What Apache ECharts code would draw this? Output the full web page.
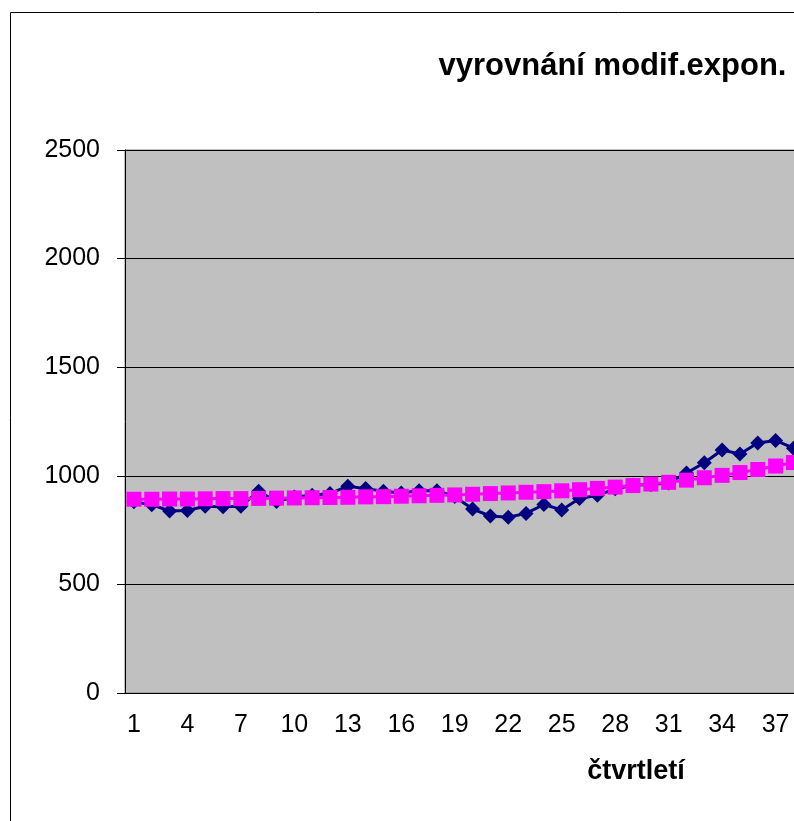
<!DOCTYPE html>
<html>
<head>
<meta charset="utf-8">
<script src="https://cdn.jsdelivr.net/npm/echarts@6/dist/echarts.min.js"></script>
<style>
  html, body { margin: 0; padding: 0; overflow: hidden; background: #fff; }
  #main { width: 1225px; height: 821px; }
</style>
</head>
<body>
<div id="main"></div>
<script>
  // quarters 1..57 (only the first ~38 are in view)
  var quarters = [];
  for (var q = 1; q <= 57; q++) quarters.push(String(q));

  var actual = [880, 867, 838, 840, 860, 858, 860, 929, 882, 902,
                910, 918, 952, 941, 929, 921, 931, 931, 905, 847,
                815, 809, 827, 868, 843, 895, 910, 940, 956, 960,
                967, 1013, 1060, 1119, 1100, 1151, 1163, 1127];

  var smoothed = [892, 892, 893, 893, 894, 895, 895, 896, 897, 898,
                  899, 900, 901, 903, 904, 906, 908, 910, 912, 915,
                  918, 921, 924, 927, 931, 936, 942, 948, 955, 962,
                  970, 980, 991, 1002, 1015, 1029, 1045, 1061];

  var chartDom = document.getElementById('main');
  var myChart = echarts.init(chartDom);
  var option;

  option = {
    animation: false,
    textStyle: { fontFamily: 'Liberation Sans, Arial, sans-serif' },
    title: {
      text: 'vyrovnání modif.expon.',
      left: 'center',
      top: 46,
      textStyle: { fontSize: 31, fontWeight: 'bold', color: '#000' }
    },
    graphic: [{
      type: 'rect',
      shape: { x: 10.5, y: 12.5, width: 1400, height: 1000 },
      style: { fill: 'none', stroke: '#000', lineWidth: 1 },
      silent: true
    }],
    grid: {
      left: 125,
      top: 150,
      width: 1016,
      height: 543,
      show: true,
      backgroundColor: '#C0C0C0',
      borderColor: '#808080',
      borderWidth: 1
    },
    xAxis: {
      type: 'category',
      boundaryGap: true,
      data: quarters,
      name: 'čtvrtletí',
      nameLocation: 'middle',
      nameGap: 65,
      nameTextStyle: { fontSize: 27, fontWeight: 'bold', color: '#000', padding: [0, 0, 0, 6] },
      axisLine: { lineStyle: { color: '#000', width: 1 } },
      axisTick: { interval: 0, length: 7, lineStyle: { color: '#000' } },
      axisLabel: { interval: 2, fontSize: 25, color: '#000', margin: 20 },
      splitLine: { show: false }
    },
    yAxis: {
      type: 'value',
      min: 0,
      max: 2500,
      interval: 500,
      axisLine: { show: true, lineStyle: { color: '#000', width: 1 } },
      axisTick: { show: true, length: 8, lineStyle: { color: '#000' } },
      axisLabel: { fontSize: 25, color: '#000', margin: 25, formatter: function (v) { return String(v); } },
      splitLine: { lineStyle: { color: '#000', width: 1 } }
    },
    series: [
      {
        name: 'skutečnost',
        type: 'line',
        data: actual,
        symbol: 'diamond',
        symbolSize: 15,
        showAllSymbol: true,
        itemStyle: { color: '#000080' },
        lineStyle: { color: '#000080', width: 3 }
      },
      {
        name: 'vyrovnání',
        type: 'line',
        data: smoothed,
        symbol: 'rect',
        symbolSize: 15,
        showAllSymbol: true,
        itemStyle: { color: '#FF00FF' },
        lineStyle: { color: '#FF00FF', width: 3 }
      }
    ]
  };
  option && myChart.setOption(option);
</script>
</body>
</html>
